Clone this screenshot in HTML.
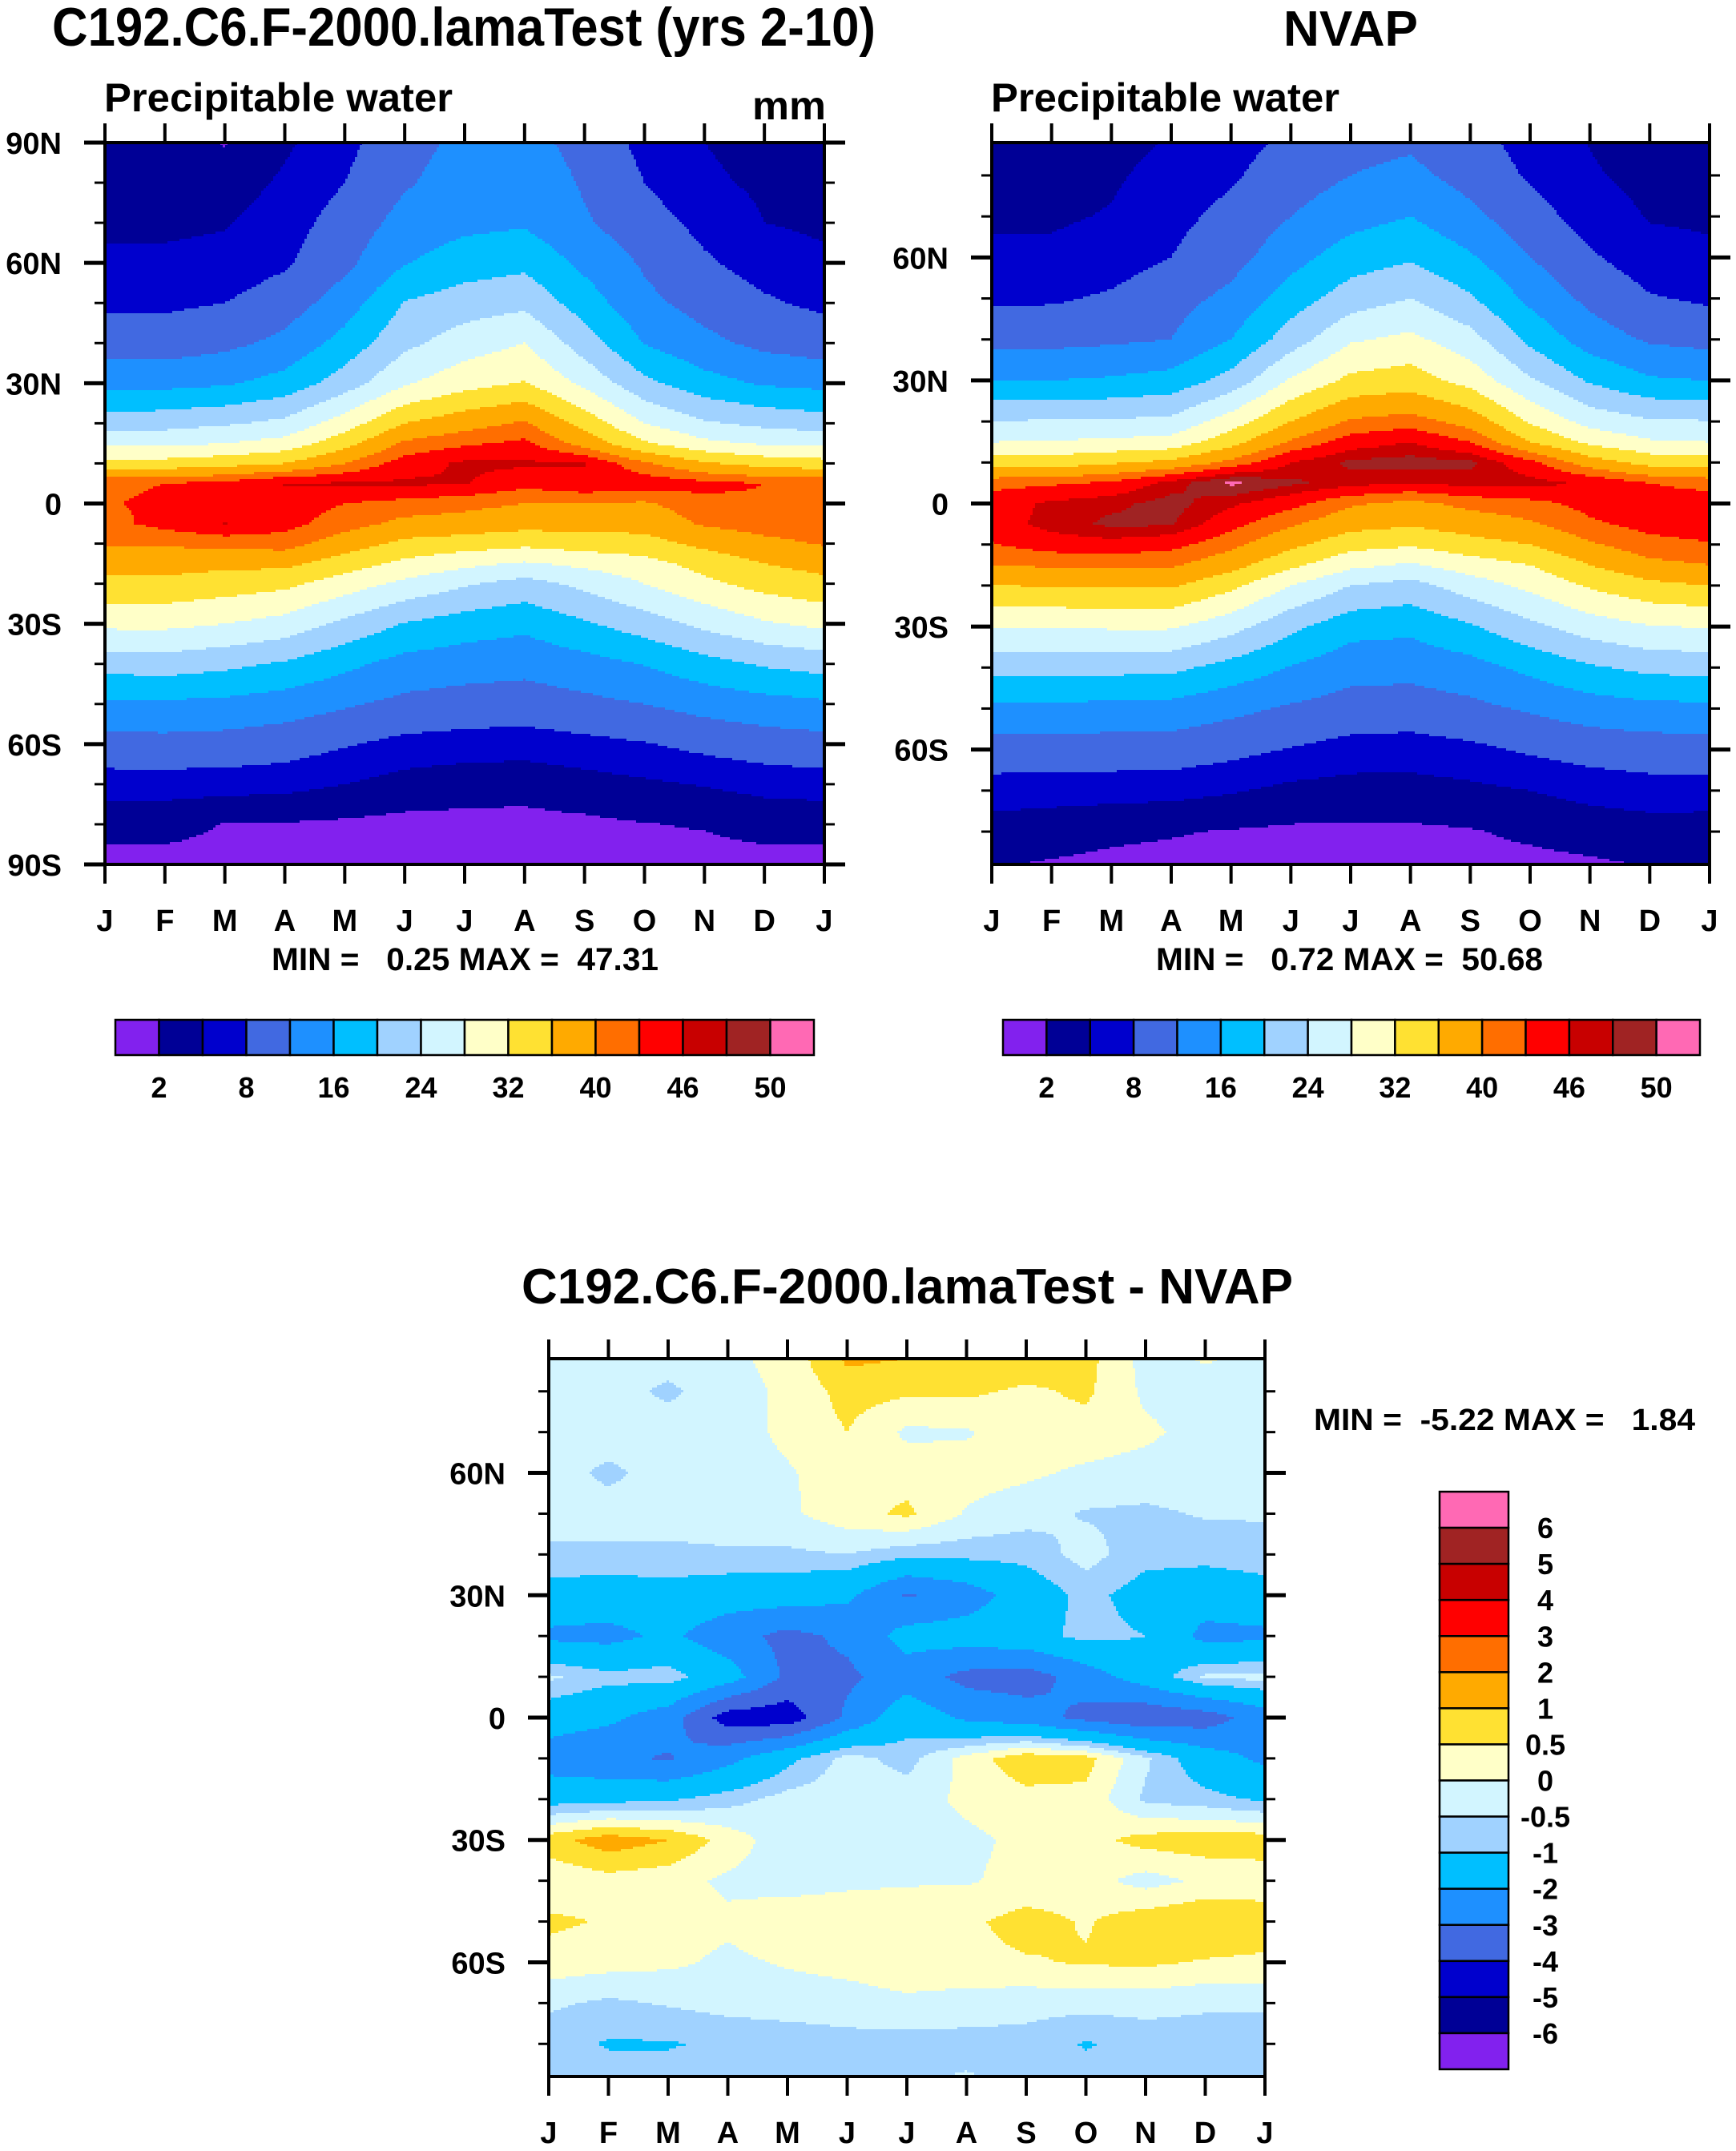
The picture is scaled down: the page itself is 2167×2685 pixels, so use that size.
<!DOCTYPE html>
<html><head><meta charset="utf-8">
<style>
html,body{margin:0;padding:0;background:#fff;}
svg{display:block;font-family:"Liberation Sans",Arial,sans-serif;font-weight:bold;}
</style></head>
<body>
<svg id="root" xmlns="http://www.w3.org/2000/svg" width="2167" height="2685" viewBox="0 0 2167 2685">
<rect x="0" y="0" width="2167" height="2685" fill="#fff"/>
<text x="65" y="57" font-size="68" textLength="1028" lengthAdjust="spacingAndGlyphs">C192.C6.F-2000.lamaTest (yrs 2-10)</text>
<text x="1602" y="57" font-size="62" textLength="168" lengthAdjust="spacingAndGlyphs">NVAP</text>
<text x="130" y="139" font-size="50" textLength="435" lengthAdjust="spacingAndGlyphs">Precipitable water</text>
<text x="939" y="149" font-size="50" textLength="92" lengthAdjust="spacingAndGlyphs">mm</text>
<text x="1237" y="139" font-size="50" textLength="435" lengthAdjust="spacingAndGlyphs">Precipitable water</text>
<text x="339" y="1211" font-size="40" textLength="483" lengthAdjust="spacingAndGlyphs" xml:space="preserve">MIN =   0.25 MAX =  47.31</text>
<text x="1443" y="1211" font-size="40" textLength="483" lengthAdjust="spacingAndGlyphs" xml:space="preserve">MIN =   0.72 MAX =  50.68</text>
<text x="651" y="1627" font-size="62" textLength="963" lengthAdjust="spacingAndGlyphs">C192.C6.F-2000.lamaTest - NVAP</text>
<text x="1640" y="1785" font-size="38" textLength="476" lengthAdjust="spacingAndGlyphs" xml:space="preserve">MIN =  -5.22 MAX =   1.84</text>
<g id="layer"></g>
</svg>
<script>
const monthLabels = ['J','F','M','A','M','J','J','A','S','O','N','D','J'];
const latGrid = [90,80,70,60,50,40,30,20,15,10,5,0,-5,-10,-15,-20,-30,-40,-50,-60,-70,-80,-90];
const pwLevels = [2,5,8,12,16,20,24,28,32,36,40,43,46,48,50];
const pwLevelLabels = ['2','','8','','16','','24','','32','','40','','46','','50'];
const diffLevels = [-6,-5,-4,-3,-2,-1,-0.5,0,0.5,1,2,3,4,5,6];
const diffLevelLabels = ['-6','-5','-4','-3','-2','-1','-0.5','0','0.5','1','2','3','4','5','6'];
const palette = ['#8221EE','#000096','#0000CD','#4169E1','#1E90FF','#00BFFF','#A0D2FF','#D2F5FF','#FFFFC8','#FFE132','#FFAA00','#FF6E00','#FF0000','#C80000','#A02323','#FF69B4'];

const modelByMonth = [
 [3.5,4,4.5,5.5,7.2,10,14.8,22,27,33.5,42.5,42.8,42,40.3,37.5,34.8,29,21.6,15.3,10.5,6.4,3,1],
 [3.8,3.8,4.5,5.5,7.3,10,14.8,22.5,27,33.5,43,43.5,44,40.5,37.5,35,29,22,15.3,10.7,6.4,3,1],
 [1.8,3.5,4.8,5.8,8,11,15.5,23.5,28,34.5,44,44,46.1,41,37,34,28,21,15,10.4,6.3,1.9,1],
 [4.5,5.5,6.5,7.5,10,13,17.5,25,29.5,36,46.2,44.5,44,41.5,37,33,26.5,19.5,14,9.7,6,1.8,1],
 [7,8,9.5,11,14,17.5,22,30,34.5,40,46.3,43,41.5,38,34,30,23,17,12.5,8.3,5,1.5,0.9],
 [10.5,11.5,13.5,15.8,20.2,23,27.5,36,40.7,44.5,46.5,42,39,35,31,27,19.8,14.5,11,7,3.8,1.2,0.8],
 [13,14,15,18,22,26,30.5,38.5,42.5,46.5,46.2,41,38.5,34,29,24.5,18,13.8,10.3,6.6,3.2,1.2,0.8],
 [13.5,15,15.5,19,23,28,32.3,40.5,43.7,46.5,44,40,37.5,33,27.5,22.5,17,13.3,10,6.4,3,1.2,0.8],
 [10.5,11.5,12.5,15,18,22,27,34.5,38.5,46.1,45.5,40,37.5,34,29,25,19.5,14.5,11,7,3.8,1.4,0.8],
 [7,8,9.5,11.5,13,15.8,21,28,32.5,40.5,45,39.5,37.5,34.5,30.5,28,22,16.2,12,7.8,4.5,1.9,1],
 [5,5.5,7,8.5,10.5,13,17.5,24.5,29,36.5,44,42,40.5,37,33.5,31,25,18.5,13.5,9,5.2,2.2,1],
 [4,4.5,5,6.5,8.5,11,15.5,23,27.5,34.5,43,42.5,41.5,39,36,33.5,27.5,20.5,14.5,10,6,3,1],
 [3.5,4,4.5,5.5,7.2,10,14.8,22,27,33.5,42.5,42.8,42,40.3,37.5,34.8,29,21.6,15.3,10.5,6.4,3,1]
];
const nvapByMonth = [
 [3.5,4,4.6,5.5,7.4,10.7,16,24.2,28,33.8,42,44.5,44.5,42.8,40,36,28.3,21.4,15,10,6.6,3.5,1.8],
 [3.6,4,4.6,5.6,7.5,10.8,16,24.3,28.3,34,42.5,46.5,47,44.5,40.5,36.2,28.3,21.4,15,10,6.4,3,1.5],
 [4,4.6,5.2,6.3,8.5,11.3,16.5,24.5,28.8,35.5,43.5,47.5,48.5,45,40.7,36.5,28.5,21.2,14.8,10,6.2,2.5,1.2],
 [5,6,7,8,10.5,12,17.5,25,29.5,37,47,48.8,48.3,44,40.5,36.5,28.5,21,14.5,10,6,2.2,1],
 [6.5,7.5,9,10.5,13,16,21.5,30,34.5,41,50.5,46.5,44,41,37.5,33,25.5,18.5,13,9,5.3,1.8,1],
 [8.5,10,12,14.5,18,22,28.5,36,40.5,46,48.5,44,40.5,37,33,28,21,15.8,11.5,7.8,4.2,1.5,0.9],
 [10.5,12,14.5,18,22,27.5,33,40.5,44.5,48.5,47,40.5,37.5,33.5,29,24,17.5,13.5,10.3,6.7,3.8,1.5,0.8],
 [11,13,16,19.5,24,29,34,41.5,46,49,46,39,36.5,32.5,27.5,22.5,17,13.3,10,6.5,3.8,1.5,0.8],
 [9,10.5,13,16.5,20.5,25.5,30.5,38.5,43,48.5,47,41,38,34.5,30,26,19.5,14.5,11,7.2,4.3,1.8,1],
 [6.5,7.5,9.5,12,15,19,24.5,31.5,36,44,47,42,39.5,36,32,29,23,17,12.5,8.5,5,2.5,1],
 [4.8,5.3,6.5,8.5,11,14,19.5,26.5,31,38,45.5,44,42.5,39.5,36,32.5,26,19.5,14,9.5,6,3.2,1.2],
 [3.7,4.2,4.8,6,8.3,11.5,16.5,24.5,28.5,34.5,43,44.5,44,42,39,35,27.8,21,14.8,10,6.6,3.6,1.8],
 [3.5,4,4.6,5.5,7.4,10.7,16,24.2,28,33.8,42,44.5,44.5,42.8,40,36,28.3,21.4,15,10,6.6,3.5,1.8]
];
const diffLats = [90,80,70,60,50,40,30,20,10,0,-10,-20,-30,-40,-50,-60,-70,-80,-90];
const diffByLat = [
 [-0.2,-0.2,-0.2,-0.1,0.2,1.2,1.1,1.1,1.0,0.7,-0.2,0.1,-0.1],
 [-0.25,-0.3,-0.6,-0.2,0.1,0.7,0.6,0.6,0.4,0.6,-0.1,-0.2,-0.2],
 [-0.25,-0.25,-0.25,-0.2,0.1,0.5,-0.1,-0.05,0.3,0.3,0.1,-0.2,-0.2],
 [-0.3,-0.6,-0.3,-0.2,-0.05,0.25,0.3,0.2,0.1,-0.1,-0.2,-0.2,-0.25],
 [-0.3,-0.3,-0.3,-0.3,-0.1,0.3,0.6,-0.05,-0.3,-0.55,-0.6,-0.45,-0.45],
 [-0.6,-0.6,-0.6,-0.55,-0.6,-0.5,-0.8,-0.8,-0.8,-0.3,-0.8,-0.8,-0.7],
 [-1.3,-1.4,-1.3,-1.5,-1.5,-1.8,-3.1,-2.5,-1.5,-0.8,-1.3,-1.5,-1.3],
 [-2.2,-2.3,-1.8,-2.6,-3.3,-2.8,-1.6,-1.5,-1.3,-0.8,-1.0,-2.3,-2.2],
 [-0.4,-0.8,-0.7,-1.5,-3.2,-3.2,-2.5,-3.3,-3.5,-2.5,-1.5,-0.4,-0.3],
 [-1.5,-1.8,-2.5,-4.5,-4.6,-2.8,-1.3,-2.2,-2.5,-3.3,-3.8,-3.5,-2.5],
 [-2.5,-2.8,-3.1,-2.3,-1.2,-0.3,-0.7,0.2,0.9,0.7,-0.4,-1.5,-2.2],
 [-1.3,-1.2,-1.1,-0.7,-0.3,-0.2,-0.2,0.1,0.3,0.35,-0.6,-0.8,-1.1],
 [0.8,1.3,1.0,0.3,-0.35,-0.2,-0.2,-0.1,0.1,0.3,0.7,0.8,0.8],
 [0.1,0.3,0.2,-0.1,-0.2,-0.1,-0.05,-0.05,0.15,0.2,-0.2,0.1,0.2],
 [0.6,0.45,0.2,0.1,0.3,0.3,0.3,0.4,0.7,0.45,0.8,1.0,0.8],
 [0.3,0.2,0.1,-0.1,0.05,0.15,0.3,0.35,0.45,0.55,0.6,0.45,0.4],
 [-0.4,-0.6,-0.45,-0.3,-0.25,-0.2,-0.1,-0.2,-0.3,-0.3,-0.3,-0.4,-0.4],
 [-0.8,-1.05,-1.05,-0.9,-0.8,-0.7,-0.7,-0.7,-0.7,-1.05,-0.8,-0.8,-0.8],
 [-0.6,-0.7,-0.7,-0.7,-0.45,-0.6,-0.55,-0.4,-0.6,-0.7,-0.7,-0.7,-0.6]
];
const NS = 'http://www.w3.org/2000/svg';
const layer = document.getElementById('layer');
function mk(tag, attrs, parent){
  const e = document.createElementNS(NS, tag);
  for (const k in attrs) e.setAttribute(k, attrs[k]);
  (parent||layer).appendChild(e);
  return e;
}
function levelIndex(v, levels){ let i=0; while(i<levels.length && v>=levels[i]) i++; return i; }
function interpLat(lats, lat){
  for (let i=0;i<lats.length-1;i++){
    if (lat<=lats[i] && lat>=lats[i+1]) return [i,(lats[i]-lat)/(lats[i]-lats[i+1])];
  }
  return lat>lats[0]?[0,0]:[lats.length-2,1];
}
function sample(getV, lats, m, lat){
  const mi = Math.max(0, Math.min(11, Math.floor(m))); const fm = m-mi;
  const [li, fl] = interpLat(lats, lat);
  const a=getV(mi,li), b=getV(mi+1,li), c=getV(mi,li+1), d=getV(mi+1,li+1);
  return (a*(1-fm)+b*fm)*(1-fl) + (c*(1-fm)+d*fm)*fl;
}
function emitRun(g, x, y, w, h, c){
  const r = mk('rect', {x:x, y:y, width:w+0.6, height:h+0.6, fill:palette[c]}, g);
  
  
}
function drawPlot(p){
  const g = mk('g', {});
  
  
  const W=p.x1-p.x0, H=p.y1-p.y0;
  const xOf = m => p.x0 + m/12*W;
  const yOf = lat => p.y0 + (p.latTop-lat)/(p.latTop-p.latBot)*H;
  const step=3, dy=3;
  for (let y=p.y0; y<p.y1; y+=dy){
    const h = Math.min(dy, p.y1-y);
    const lat = p.latTop - ((y+h/2)-p.y0)/H*(p.latTop-p.latBot);
    let runStart=p.x0, runC=-1;
    for (let x=p.x0; x<p.x1; x+=step){
      const m = Math.min(12, ((x+step/2)-p.x0)/W*12);
      const c = levelIndex(sample(p.getV, p.lats, m, lat), p.levels);
      if (c!==runC){
        if (runC>=0) emitRun(g, runStart, y, x-runStart, h, runC);
        runStart=x; runC=c;
      }
    }
    if (runC>=0) emitRun(g, runStart, y, p.x1-runStart, h, runC);
  }
  const frame = mk('rect', {x:p.x0, y:p.y0, width:W, height:H, fill:'none', stroke:'#000', 'stroke-width':4});
  
  
  for (let m=0;m<=12;m++){
    const x=xOf(m);
    const t1 = mk('line', {x1:x,y1:p.y0,x2:x,y2:p.y0-24,stroke:'#000','stroke-width':4});
    
    
    const t2 = mk('line', {x1:x,y1:p.y1,x2:x,y2:p.y1+24,stroke:'#000','stroke-width':4});
    
    
    const lb = mk('text', {x:x, y:p.y1+83, 'font-size':38, 'text-anchor':'middle'});
    lb.textContent = monthLabels[m];
    
    
  }
  for (let lat=90; lat>=-90; lat-=10){
    if (lat>p.latTop || lat<p.latBot) continue;
    const y=yOf(lat); const major = lat%30===0; const len = major?26:13;
    const a = mk('line', {x1:p.x0-len,y1:y,x2:p.x0,y2:y,stroke:'#000','stroke-width':major?5:3});
    
    
    const b = mk('line', {x1:p.x1,y1:y,x2:p.x1+len,y2:y,stroke:'#000','stroke-width':major?5:3});
    
    
    if (major){
      const lb = mk('text', {x:p.x0-54, y:y+14, 'font-size':38, 'text-anchor':'end'});
      lb.textContent = lat===0?'0':(Math.abs(lat)+(lat>0?'N':'S'));
      
      
    }
  }
}
function drawHBar(x0,x1,y0,y1,name){
  const g = mk('g', {});
  
  
  const bw=(x1-x0)/16;
  for (let i=0;i<16;i++){
    const r = mk('rect', {x:x0+i*bw, y:y0, width:bw, height:y1-y0, fill:palette[i], stroke:'#000','stroke-width':2.5}, g);
    
    
  }
  for (let i=0;i<15;i++){
    if (!pwLevelLabels[i]) continue;
    const t = mk('text', {x:x0+(i+1)*bw, y:y1+53, 'font-size':36, 'text-anchor':'middle'}, g);
    t.textContent = pwLevelLabels[i];
    
    
  }
}
drawPlot({name:'model-contour-plot', x0:131,x1:1029,y0:178,y1:1079, latTop:90, latBot:-90, lats:latGrid, levels:pwLevels, getV:(m,l)=>modelByMonth[m][l]});
drawPlot({name:'nvap-contour-plot', x0:1238,x1:2134,y0:178,y1:1079, latTop:88, latBot:-88, lats:latGrid, levels:pwLevels, getV:(m,l)=>nvapByMonth[m][l]});
drawPlot({name:'difference-contour-plot', x0:685,x1:1579,y0:1696,y1:2592, latTop:88, latBot:-88, lats:diffLats, levels:diffLevels, getV:(m,l)=>diffByLat[l][m]});
drawHBar(144,1016,1273,1317,'model-colorbar');
drawHBar(1252,2122,1273,1317,'nvap-colorbar');
(function(){
  const g = mk('g', {});
  
  
  const x0=1797,x1=1883,y0=1862,y1=2583,bh=(y1-y0)/16;
  for (let i=0;i<16;i++){
    const r = mk('rect', {x:x0, y:y0+i*bh, width:x1-x0, height:bh, fill:palette[15-i], stroke:'#000','stroke-width':2.5}, g);
    
    
  }
  for (let i=0;i<15;i++){
    const t = mk('text', {x:1929, y:y0+(i+1)*bh+13, 'font-size':36, 'text-anchor':'middle'}, g);
    t.textContent = diffLevelLabels[14-i];
    
    
  }
})();
</script>
</body></html>
